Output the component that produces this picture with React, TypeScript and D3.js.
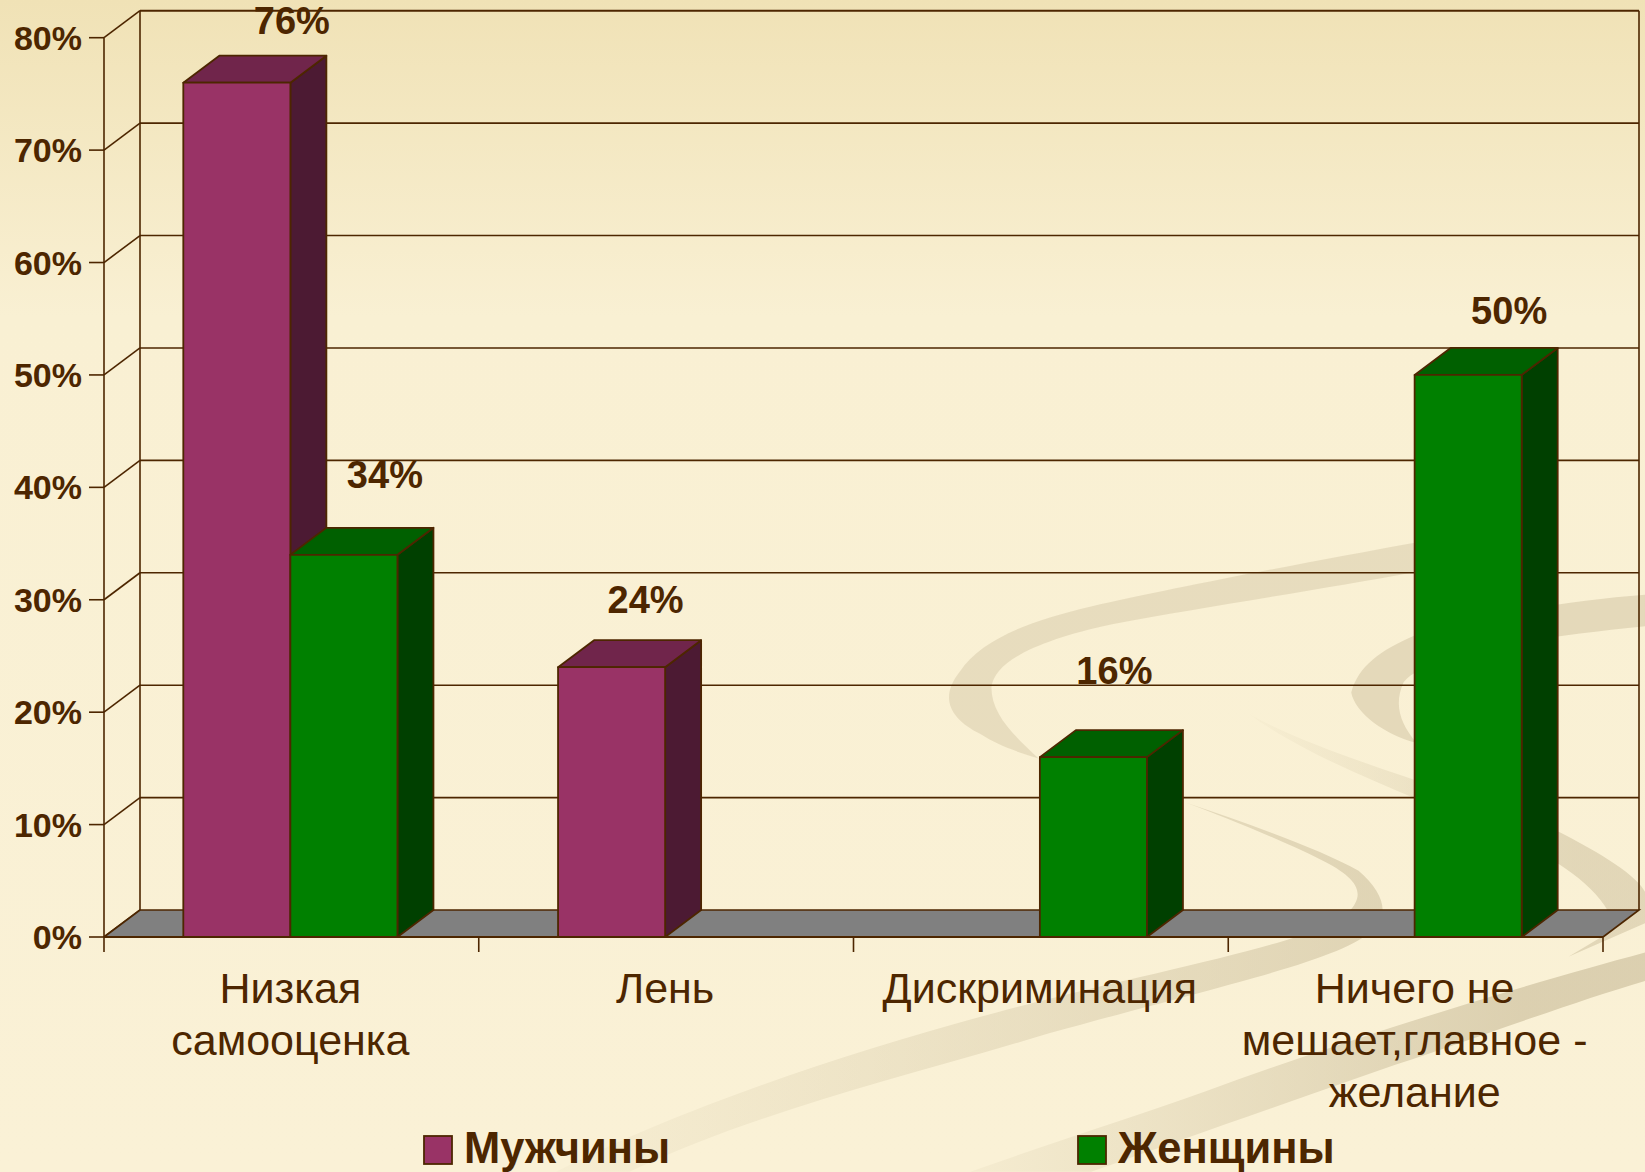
import React from "react";
import * as d3 from "d3";

const categories = [
  ["Низкая", "самооценка"],
  ["Лень"],
  ["Дискриминация"],
  ["Ничего не", "мешает,главное -", "желание"],
];
const seriesNames = ["Мужчины", "Женщины"];
const menValues: (number | null)[] = [76, 24, null, null];
const womenValues: (number | null)[] = [34, null, 16, 50];
const yTicks = [0, 10, 20, 30, 40, 50, 60, 70, 80];
const labelShiftX = [[54, 40], [33, 0], [0, 20], [0, 40]];
const labelShiftY = [[49, 67], [54, 0], [0, 73], [0, 51]];

const INK = "#4d2600";
const FRONT = ["#993366", "#008000"];
const TOP = ["#70254b", "#006000"];
const SIDE = ["#4c1a33", "#004000"];
const DX = 36;
const DY = 27;
const BAR_DX = 36;

const FONT = "'Liberation Sans', Arial, sans-serif";

const swooshes = [
  { d: "M1350,517 C1250,535 1120,560 1040,578 C980,592 935,610 915,640 C895,665 905,685 935,700 C950,710 970,717 990,723 C965,700 945,680 945,655 C948,630 990,610 1060,595 C1150,578 1260,562 1350,545 Z", fill: "#cfc2a0", op: 0.42 },
  { d: "M1568,567 C1500,572 1420,585 1350,605 C1315,620 1295,635 1288,660 C1292,680 1320,700 1350,708 C1335,690 1328,672 1338,650 C1360,625 1440,610 1568,597 Z", fill: "#cfc2a0", op: 0.5 },
  { d: "M1190,680 C1260,720 1380,750 1480,790 C1530,815 1560,835 1568,850 L1568,880 L1495,912 L1540,885 C1530,850 1490,820 1430,795 C1350,760 1250,725 1190,680 Z", fill: "url(#fadeLeft3)", op: 1 },
  { d: "M1130,765 C1190,785 1260,810 1295,830 C1318,850 1325,870 1310,885 C1280,915 1180,935 1000,985 C850,1030 720,1060 600,1117 L530,1117 C640,1060 800,1005 950,965 C1100,925 1250,900 1285,870 C1305,850 1290,835 1260,820 C1220,800 1170,780 1130,765 Z", fill: "url(#fadeLeft4)", op: 1 },
  { d: "M1568,908 C1450,940 1300,985 1150,1040 C1080,1065 1000,1090 925,1117 L1040,1117 C1130,1085 1230,1050 1330,1015 C1420,985 1500,955 1568,935 Z", fill: "url(#fadeLeft5)", op: 1 },
];

export default function App() {
  const x0 = d3.scaleBand<number>().domain(d3.range(categories.length)).range([104, 1603]);
  const x1 = d3.scaleBand<number>().domain([0, 1]).range([-1, x0.step() - 1]).paddingInner(0).paddingOuter(0.75);
  const y = d3.scaleLinear().domain([0, 80]).range([937, 37.7]);
  const xL = x0.range()[0];
  const xR = x0.range()[1];
  const yB = y(0);
  const yT = y(80);

  const series = [menValues, womenValues];
  const bars: { c: number; s: number; v: number }[] = [];
  categories.forEach((_, c) => series.forEach((vals, s) => {
    const v = vals[c];
    if (v != null) bars.push({ c, s, v });
  }));

  const poly = (pts: [number, number][]) => d3.line()(pts) + "Z";
  const fade = (id: string, from: number, to: number, a: number, b: number) => (
    <linearGradient id={id} gradientUnits="userSpaceOnUse" x1={from} y1="0" x2={to} y2="0">
      <stop offset="0" stopColor="#cfc2a0" stopOpacity={a} />
      <stop offset="1" stopColor="#cfc2a0" stopOpacity={b} />
    </linearGradient>
  );

  return (
    <svg width={1645} height={1172} style={{ position: "absolute", left: 0, top: 0, display: "block" }} fontFamily={FONT}>
      <defs>
        <linearGradient id="bg" x1="0" y1="0" x2="0" y2="1">
          <stop offset="0" stopColor="#f0e2b6" />
          <stop offset="0.27" stopColor="#f9f0d3" />
          <stop offset="1" stopColor="#faf1d6" />
        </linearGradient>
        {fade("fadeLeft3", 1190, 1500, 0.05, 0.55)}
        {fade("fadeLeft4", 530, 1300, 0.08, 0.6)}
        {fade("fadeLeft5", 925, 1450, 0.12, 0.7)}
      </defs>
      <rect width={1645} height={1172} fill="url(#bg)" />
      <g transform="scale(1.0491)">
        {swooshes.map((s, i) => <path key={i} d={s.d} fill={s.fill} opacity={s.op} />)}
      </g>

      {/* walls */}
      {yTicks.map((t) => (
        <g key={t} stroke={INK} fill="none">
          <path d={`M${xL - 15},${y(t)}H${xL}`} strokeWidth={1.6} />
          <path d={`M${xL},${y(t)}L${xL + DX},${y(t) - DY}`} strokeWidth={1.6} />
          {t > 0 && <path d={`M${xL + DX},${y(t) - DY}H${xR + DX}`} strokeWidth={t === 80 ? 2 : 1.6} />}
        </g>
      ))}
      <path d={`M${xL},${yT}V${yB}`} stroke={INK} strokeWidth={1.6} fill="none" />
      <path d={`M${xL + DX},${yT - DY}V${yB - DY}`} stroke={INK} strokeWidth={1.6} fill="none" />
      <path d={`M${xR + DX},${yT - DY}V${yB - DY}`} stroke={INK} strokeWidth={1.6} fill="none" />

      {/* floor */}
      <path
        d={poly([[xL, yB], [xR, yB], [xR + DX, yB - DY], [xL + DX, yB - DY]])}
        fill="#808080" stroke="none"
      />
      <path d={`M${xL},${yB}L${xL + DX},${yB - DY}H${xR + DX}L${xR},${yB}`} stroke={INK} strokeWidth={1.6} fill="none" />

      {/* bars */}
      {bars.map(({ c, s, v }) => {
        const l = x0(c)! + x1(s)!;
        const r = l + x1.bandwidth();
        const t = y(v);
        return (
          <g key={`${c}-${s}`} stroke={INK} strokeWidth={1.8} strokeLinejoin="round">
            <path d={poly([[r, t], [r + BAR_DX, t - DY], [r + BAR_DX, yB - DY], [r, yB]])} fill={SIDE[s]} />
            <path d={poly([[l, t], [l + BAR_DX, t - DY], [r + BAR_DX, t - DY], [r, t]])} fill={TOP[s]} />
            <path d={poly([[l, t], [r, t], [r, yB], [l, yB]])} fill={FRONT[s]} />
          </g>
        );
      })}

      {/* base axis */}
      <path d={`M${xL},${yB}H${xR}`} stroke={INK} strokeWidth={2} fill="none" />
      {d3.range(categories.length + 1).map((i) => {
        const xp = xL + i * x0.step();
        return <path key={i} d={`M${xp},${yB}V${yB + 15}`} stroke={INK} strokeWidth={1.6} fill="none" />;
      })}

      {/* y labels */}
      {yTicks.map((t) => (
        <text key={t} x={82} y={y(t) + 12} textAnchor="end" fontSize={34} fontWeight="bold" fill={INK}>{t}%</text>
      ))}

      {/* value labels */}
      {bars.map(({ c, s, v }) => {
        const cx = x0(c)! + x1(s)! + x1.bandwidth() / 2;
        return (
          <text key={`${c}-${s}`} x={cx + labelShiftX[c][s] + 1} y={y(v) - labelShiftY[c][s]} textAnchor="middle" fontSize={38} fontWeight="bold" fill={INK}>{v}%</text>
        );
      })}

      {/* category labels */}
      {categories.map((lines, c) => (
        <text key={c} textAnchor="middle" fontSize={43} fill={INK}>
          {lines.map((ln, i) => (
            <tspan key={i} x={x0(c)! + x0.bandwidth() / 2 - 1} y={1003 + i * 52}>{ln}</tspan>
          ))}
        </text>
      ))}

      {/* legend */}
      {seriesNames.map((name, i) => {
        const sx = [424, 1078][i];
        return (
          <g key={name}>
            <rect x={sx} y={1136} width={28} height={28} fill={FRONT[i]} stroke={INK} strokeWidth={1.8} />
            <text x={sx + 40} y={1163} fontSize={43.5} fontWeight="bold" fill={INK}>{name}</text>
          </g>
        );
      })}
    </svg>
  );
}
